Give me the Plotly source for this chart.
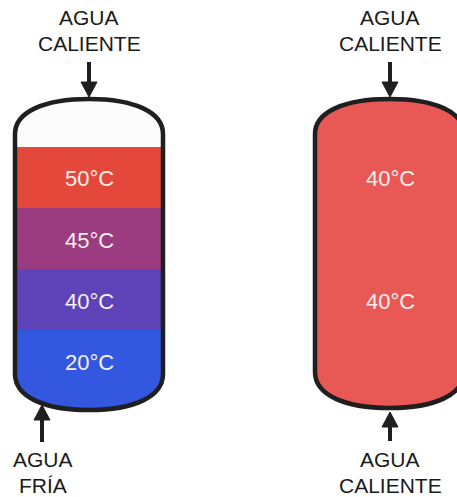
import plotly.graph_objects as go

# ---- data ----
left_layer_temps = ["50°C", "45°C", "40°C", "20°C"]
left_layer_colors = ["#E4483A", "#9B3B80", "#5E42B8", "#3358DF"]
right_layer_temps = ["40°C", "40°C"]
right_fill = "#E85955"
top_labels = ["AGUA", "CALIENTE"]
bottom_left_labels = ["AGUA", "FRÍA"]
bottom_right_labels = ["AGUA", "CALIENTE"]

W, H = 457, 497
OUT = "#1f1f1f"
FONT = "Liberation Sans, Arial, sans-serif"

def tank_path(L, R, T, S, Bs, Bt, k=0.62):
    C = (L + R) / 2
    w = C - L
    h1 = S - T
    h2 = Bt - Bs
    return (f"M {L},{S} C {L},{S-k*h1} {C-k*w},{T} {C},{T} "
            f"C {C+k*w},{T} {R},{S-k*h1} {R},{S} "
            f"L {R},{Bs} C {R},{Bs+k*h2} {C+k*w},{Bt} {C},{Bt} "
            f"C {C-k*w},{Bt} {L},{Bs+k*h2} {L},{Bs} Z")

def bottom_part(L, R, top, Bs, Bt, k=0.62):
    C = (L + R) / 2
    w = C - L
    h2 = Bt - Bs
    return (f"M {L},{top} L {R},{top} L {R},{Bs} "
            f"C {R},{Bs+k*h2} {C+k*w},{Bt} {C},{Bt} "
            f"C {C-k*w},{Bt} {L},{Bs+k*h2} {L},{Bs} Z")

shapes = []
annotations = []

def arrow(x, y_tail, y_tip, down=True):
    hl = 15
    hw = 8
    if down:
        base = y_tip - hl
    else:
        base = y_tip + hl
    shapes.append(dict(type="line", x0=x, x1=x, y0=y_tail, y1=base, xref="x", yref="y",
                       line=dict(color=OUT, width=4)))
    shapes.append(dict(type="path", path=f"M {x-hw},{base} L {x+hw},{base} L {x},{y_tip} Z",
                       xref="x", yref="y", fillcolor=OUT, line=dict(color=OUT, width=1)))

def label(x, y, t, color="#1a1a1a", size=21):
    annotations.append(dict(x=x, y=y, text=t, showarrow=False, xref="x", yref="y",
                            xanchor="center", yanchor="middle",
                            font=dict(family=FONT, size=size, color=color)))

# ---- left tank ----
L1, R1 = 15, 163
T1, S1, Bs1, Bt1 = 99, 134, 374, 410
shapes.append(dict(type="path", path=tank_path(L1, R1, T1, S1, Bs1, Bt1), xref="x", yref="y",
                   fillcolor="#FBFBFB", line=dict(width=0)))
bounds = [147, 208, 269, 330]
for i in range(3):
    shapes.append(dict(type="rect", x0=L1, x1=R1, y0=bounds[i], y1=bounds[i + 1], xref="x", yref="y",
                       fillcolor=left_layer_colors[i], line=dict(width=0)))
shapes.append(dict(type="path", path=bottom_part(L1, R1, bounds[3], Bs1, Bt1), xref="x", yref="y",
                   fillcolor=left_layer_colors[3], line=dict(width=0)))
shapes.append(dict(type="path", path=tank_path(L1, R1, T1, S1, Bs1, Bt1), xref="x", yref="y",
                   fillcolor="rgba(0,0,0,0)", line=dict(color=OUT, width=4.5)))
left_label_y = [178, 240, 301, 362]
for t, y in zip(left_layer_temps, left_label_y):
    label(89, y, t, color="#F5F0F0", size=22)

# ---- right tank ----
L2, R2 = 315, 464
T2, S2, Bs2, Bt2 = 99, 134, 372, 408
shapes.append(dict(type="path", path=tank_path(L2, R2, T2, S2, Bs2, Bt2), xref="x", yref="y",
                   fillcolor=right_fill, line=dict(color=OUT, width=4.5)))
right_label_y = [178, 301]
for t, y in zip(right_layer_temps, right_label_y):
    label(390, y, t, color="#F8EEEE", size=22)

# ---- arrows ----
arrow(89, 62, 97, down=True)
arrow(390, 62, 97, down=True)
arrow(42, 442, 405, down=False)
arrow(390, 441, 412, down=False)

# ---- text labels ----
for t, y in zip(top_labels, [17.5, 43]):
    label(89, y, t)
    label(390, y, t)
for t, y in zip(bottom_left_labels, [459.5, 485]):
    label(43, y, t)
for t, y in zip(bottom_right_labels, [459.5, 485]):
    label(390, y, t)

fig = go.Figure()
fig.add_trace(go.Scatter(x=[0], y=[0], mode="markers", marker=dict(opacity=0), hoverinfo="skip",
                         showlegend=False))
fig.update_layout(
    width=W, height=H, margin=dict(l=0, r=0, t=0, b=0),
    paper_bgcolor="white", plot_bgcolor="white",
    xaxis=dict(range=[0, W], visible=False, fixedrange=True),
    yaxis=dict(range=[H, 0], visible=False, fixedrange=True),
    shapes=shapes, annotations=annotations, showlegend=False,
)
fig.write_html("out.html", config={"displayModeBar": False},
               post_script="document.body.style.margin='0';document.body.style.overflow='hidden';")
